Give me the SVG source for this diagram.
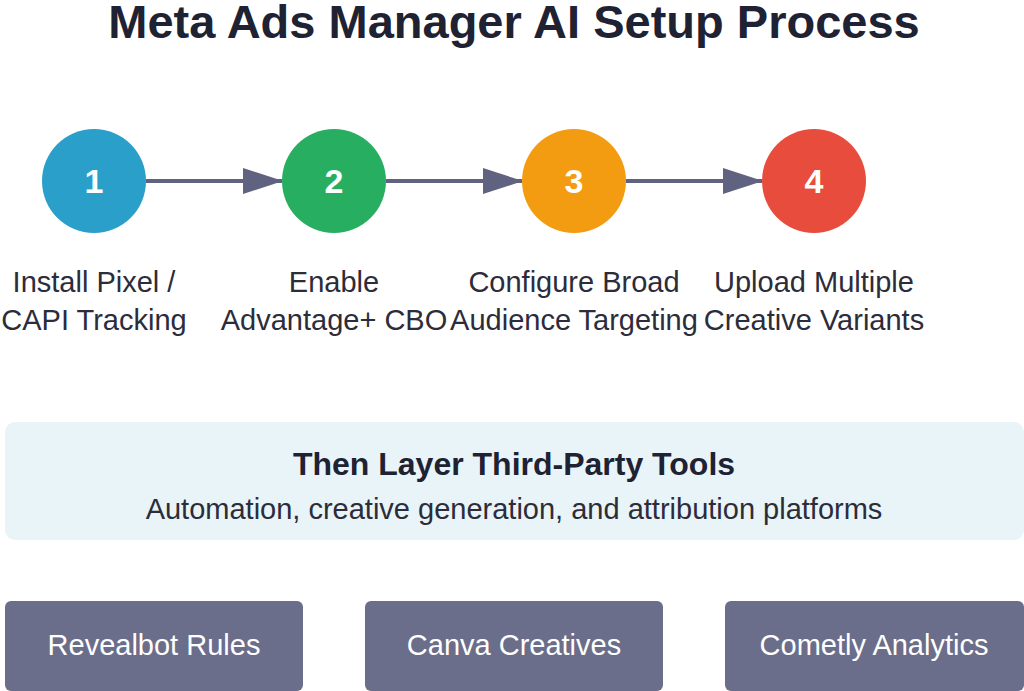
<svg xmlns="http://www.w3.org/2000/svg" width="1024" height="691" viewBox="0 0 1024 691">
<defs>
<marker id="ah" markerWidth="40" markerHeight="26" refX="39" refY="13" orient="auto" markerUnits="userSpaceOnUse">
<path d="M0,0 L40,13 L0,26 Z" fill="#5f6380"/>
</marker>
<style>
text{font-family:"Liberation Sans",Arial,sans-serif}
.num{font-size:34px;font-weight:bold;fill:#fff;text-anchor:middle}
.lbl{font-size:29px;fill:#2c2c3a;text-anchor:middle}
.conn{stroke:#5f6380;stroke-width:4;fill:none}
.tool rect{fill:#6b6e8a}
.tool text{font-size:29px;fill:#fff;text-anchor:middle}
</style>
</defs>
<rect width="1024" height="691" fill="#fff"/>
<text x="514" y="38" font-size="47" font-weight="bold" fill="#1e2233" text-anchor="middle">Meta Ads Manager AI Setup Process</text>
<g id="connectors">
<line class="conn" x1="146" y1="181" x2="282" y2="181" marker-end="url(#ah)"/>
<line class="conn" x1="386" y1="181" x2="522" y2="181" marker-end="url(#ah)"/>
<line class="conn" x1="626" y1="181" x2="762" y2="181" marker-end="url(#ah)"/>
</g>
<g id="step1"><circle cx="94" cy="181" r="52" fill="#2a9fc9"/><text class="num" x="94" y="193">1</text>
<text class="lbl" x="94" y="292">Install Pixel /</text><text class="lbl" x="94" y="330">CAPI Tracking</text></g>
<g id="step2"><circle cx="334" cy="181" r="52" fill="#27ae60"/><text class="num" x="334" y="193">2</text>
<text class="lbl" x="334" y="292">Enable</text><text class="lbl" x="334" y="330">Advantage+ CBO</text></g>
<g id="step3"><circle cx="574" cy="181" r="52" fill="#f39c12"/><text class="num" x="574" y="193">3</text>
<text class="lbl" x="574" y="292">Configure Broad</text><text class="lbl" x="574" y="330">Audience Targeting</text></g>
<g id="step4"><circle cx="814" cy="181" r="52" fill="#e74c3c"/><text class="num" x="814" y="193">4</text>
<text class="lbl" x="814" y="292">Upload Multiple</text><text class="lbl" x="814" y="330">Creative Variants</text></g>
<g id="panel"><rect x="5" y="422" width="1019" height="118" rx="10" fill="#e8f4f8"/>
<text x="514" y="475" font-size="32" font-weight="bold" fill="#1e2233" text-anchor="middle">Then Layer Third-Party Tools</text>
<text x="514" y="519" font-size="29" fill="#2c2c3a" text-anchor="middle">Automation, creative generation, and attribution platforms</text></g>
<g id="tool1" class="tool"><rect x="5" y="601" width="298" height="90" rx="6"/><text x="154" y="655">Revealbot Rules</text></g>
<g id="tool2" class="tool"><rect x="365" y="601" width="298" height="90" rx="6"/><text x="514" y="655">Canva Creatives</text></g>
<g id="tool3" class="tool"><rect x="725" y="601" width="299" height="90" rx="6"/><text x="874" y="655">Cometly Analytics</text></g>
</svg>
